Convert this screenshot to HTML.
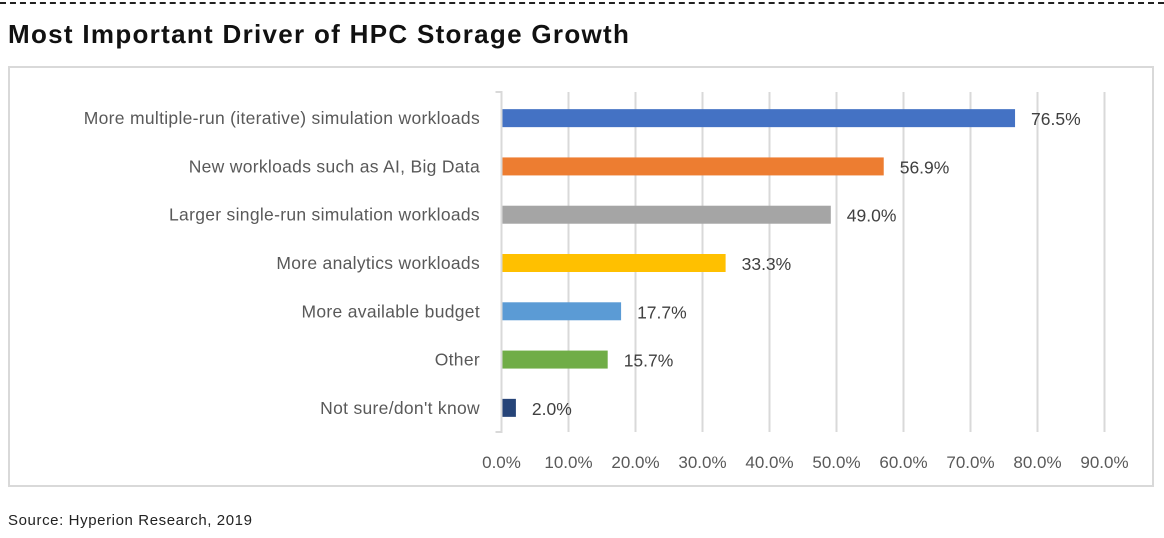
<!DOCTYPE html>
<html><head><meta charset="utf-8"><style>
body{margin:0;width:1164px;height:538px;background:#fff;font-family:"Liberation Sans",sans-serif;position:relative;overflow:hidden}
#topline{position:absolute;left:0;top:2px;width:1164px;border-top:2px dashed #222}
#title{position:absolute;left:8px;top:19px;font-size:26px;font-weight:bold;color:#111;letter-spacing:1.3px}
#box{position:absolute;left:8px;top:66px;width:1146px;height:421px;border:2px solid #d9d9d9;box-sizing:border-box}
#src{position:absolute;left:8px;top:512px;font-size:15px;color:#222;letter-spacing:0.6px}
svg{position:absolute;left:0;top:0}
</style></head><body>
<div id="topline"></div>
<div id="title">Most Important Driver of HPC Storage Growth</div>
<div id="box"></div>
<div id="src">Source: Hyperion Research, 2019</div>
<svg id="chart" width="1164" height="538"></svg>
<script>
const categories=["More multiple-run (iterative) simulation workloads","New workloads such as AI, Big Data","Larger single-run simulation workloads","More analytics workloads","More available budget","Other","Not sure/don't know"];
const values=[76.5,56.9,49.0,33.3,17.7,15.7,2.0];
const valueLabels=["76.5%","56.9%","49.0%","33.3%","17.7%","15.7%","2.0%"];
const colors=["#4472c4","#ed7d31","#a5a5a5","#ffc000","#5b9bd5","#70ad47","#264478"];
const ticks=[0,10,20,30,40,50,60,70,80,90];
const tickLabels=["0.0%","10.0%","20.0%","30.0%","40.0%","50.0%","60.0%","70.0%","80.0%","90.0%"];
const NS="http://www.w3.org/2000/svg";
const svgEl=document.getElementById('chart');
const X0=501.5,X1=1104.5,XMAX=90,PTOP=94,PBOTTOM=432;
const xs=v=>X0+(v/XMAX)*(X1-X0);
const band=(PBOTTOM-PTOP)/categories.length;
const yc=i=>PTOP+band*(i+0.5);
function mk(t,a){const e=document.createElementNS(NS,t);for(const k in a)e.setAttribute(k,a[k]);svgEl.appendChild(e);return e;}
ticks.forEach((t,i)=>{
 const g=mk('line',{x1:xs(t),x2:xs(t),y1:PTOP-2,y2:PBOTTOM,stroke:'#d9d9d9','stroke-width':2});
 
 
 const tl=mk('text',{x:xs(t),y:468,'text-anchor':'middle','font-size':17,fill:'#595959'});
 tl.textContent=tickLabels[i];
 
 
});
const ax=mk('path',{d:`M${X0-6} ${PTOP-2}H${X0}V${PBOTTOM}H${X0-6}`,stroke:'#d9d9d9','stroke-width':2,fill:'none'});


categories.forEach((c,i)=>{
 const y=yc(i);
 const r=mk('rect',{x:X0+1,y:y-9,width:xs(values[i])-X0,height:18,fill:colors[i]});
 
 
 const l=mk('text',{x:480,y:y+6,'text-anchor':'end','font-size':17.5,fill:'#595959','letter-spacing':'0.3'});
 l.textContent=c;
 
 
 const v=mk('text',{x:xs(values[i])+17,y:y+7,'font-size':17.5,fill:'#404040'});
 v.textContent=valueLabels[i];
 
 
});
</script>
</body></html>
